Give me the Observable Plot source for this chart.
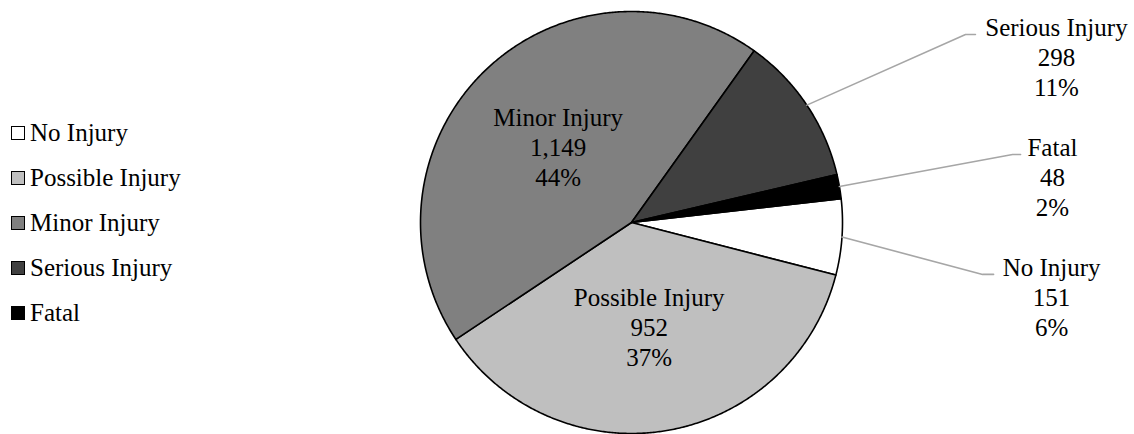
<!DOCTYPE html>
<html>
<head>
<meta charset="utf-8">
<script src="https://cdn.jsdelivr.net/npm/d3@7"></script>
<script src="https://cdn.jsdelivr.net/npm/@observablehq/plot@0.6"></script>
<style>
  body { margin: 0; background: #fff; }
  #chart { position: relative; width: 1134px; height: 434px; }
  #chart svg { position: absolute; left: 0; top: 0; }
  #legend { position: absolute; left: 11px; top: 110px; z-index: 1; }
  .row { display: flex; align-items: center; height: 45px; font-size: 25px; color: #000; }
  .sw { width: 12px; height: 12px; border: 1.5px solid #000; margin-right: 5px; flex: none; }
</style>
</head>
<body>
<div id="chart"><div id="legend"></div></div>
<script>
// Crash injury severity counts
const categories = ["No Injury", "Possible Injury", "Minor Injury", "Serious Injury", "Fatal"];
const counts = [151, 952, 1149, 298, 48];
const shades = ["#ffffff", "#bfbfbf", "#808080", "#404040", "#000000"];

// Slices labelled inside the pie; the rest get a callout to the right
const insideLabels = ["Possible Injury", "Minor Injury"];

// Callout placement in pie-radius units (label centre, leader elbow, leader end)
const calloutLayout = {
  "Serious Injury": {label: [2.014, 0.787], elbow: [1.583, 0.891], tail: [1.630, 0.891]},
  "Fatal":          {label: [1.995, 0.218], elbow: [1.806, 0.322], tail: [1.844, 0.322]},
  "No Injury":      {label: [1.991, -0.350], elbow: [1.664, -0.246], tail: [1.716, -0.246]}
};

// Pick the first serif face the system actually has
function pickFont(list) {
  const ctx = document.createElement("canvas").getContext("2d");
  const sample = "Minor Injury 1,149 44% Wwgq";
  for (const f of list) {
    for (const base of ["monospace", "sans-serif"]) {
      ctx.font = `40px ${base}`;
      const w0 = ctx.measureText(sample).width;
      ctx.font = `40px "${f}", ${base}`;
      if (Math.abs(ctx.measureText(sample).width - w0) > 0.5) return `"${f}", serif`;
    }
  }
  return "serif";
}
const font = pickFont(["Liberation Serif", "Times New Roman", "Tinos", "Nimbus Roman", "FreeSerif", "Noto Serif", "DejaVu Serif"]);
document.getElementById("chart").style.fontFamily = font;

const W = 1134, H = 434;
const cx = 631, cy = 222, R = 211;   // pie centre and radius in pixels
const rotation = 83.5 * Math.PI / 180; // angle of the first slice

const total = d3.sum(counts);
const rows = categories.map((c, i) => ({category: c, count: counts[i], pct: Math.round(counts[i] / total * 100)}));
const arcs = d3.pie().value(d => d.count).sort(null)
  .startAngle(rotation).endAngle(rotation + 2 * Math.PI)(rows);

// Slice outlines as closed polygons on a unit circle
const slicePts = [];
for (const a of arcs) {
  const n = Math.max(2, Math.ceil((a.endAngle - a.startAngle) / (0.4 * Math.PI / 180)));
  slicePts.push({category: a.data.category, x: 0, y: 0});
  for (let k = 0; k <= n; k++) {
    const t = a.startAngle + (a.endAngle - a.startAngle) * k / n;
    slicePts.push({category: a.data.category, x: Math.sin(t), y: Math.cos(t)});
  }
  slicePts.push({category: a.data.category, x: 0, y: 0});
}

const mid = a => (a.startAngle + a.endAngle) / 2;
const labelText = d => `${d.category}\n${d3.format(",")(d.count)}\n${d.pct}%`;

const inner = arcs.filter(a => insideLabels.includes(a.data.category)).map(a => ({
  text: labelText(a.data), x: 0.5 * Math.sin(mid(a)), y: 0.5 * Math.cos(mid(a))
}));

const leaderPts = [];
const outer = [];
for (const a of arcs) {
  const L = calloutLayout[a.data.category];
  if (!L) continue;
  const c = a.data.category;
  leaderPts.push({category: c, x: Math.sin(mid(a)), y: Math.cos(mid(a))});
  leaderPts.push({category: c, x: L.elbow[0], y: L.elbow[1]});
  leaderPts.push({category: c, x: L.tail[0], y: L.tail[1]});
  outer.push({text: labelText(a.data), x: L.label[0], y: L.label[1]});
}

const chart = Plot.plot({
  width: W,
  height: H,
  margin: 0,
  x: {domain: [-cx / R, (W - cx) / R], axis: null},
  y: {domain: [-(H - cy) / R, cy / R], axis: null},
  color: {domain: categories, range: shades},
  style: {background: "transparent", fontFamily: font},
  marks: [
    Plot.line(slicePts, {x: "x", y: "y", z: "category", fill: "category", stroke: "#000", strokeWidth: 1.6, strokeLinejoin: "round", curve: "linear"}),
    Plot.line(leaderPts, {x: "x", y: "y", z: "category", stroke: "#a6a6a6", strokeWidth: 1.6, curve: "linear"}),
    Plot.text(inner, {x: "x", y: "y", text: "text", fontSize: 25, lineHeight: 1.2, fill: "#000", fontFamily: font}),
    Plot.text(outer, {x: "x", y: "y", text: "text", fontSize: 25, lineHeight: 1.2, fill: "#000", fontFamily: font})
  ]
});
document.getElementById("chart").appendChild(chart);

// Legend
const legend = d3.select("#legend");
categories.forEach((c, i) => {
  const row = legend.append("div").attr("class", "row");
  row.append("div").attr("class", "sw").style("background", shades[i]);
  row.append("span").text(c);
});
</script>
</body>
</html>
